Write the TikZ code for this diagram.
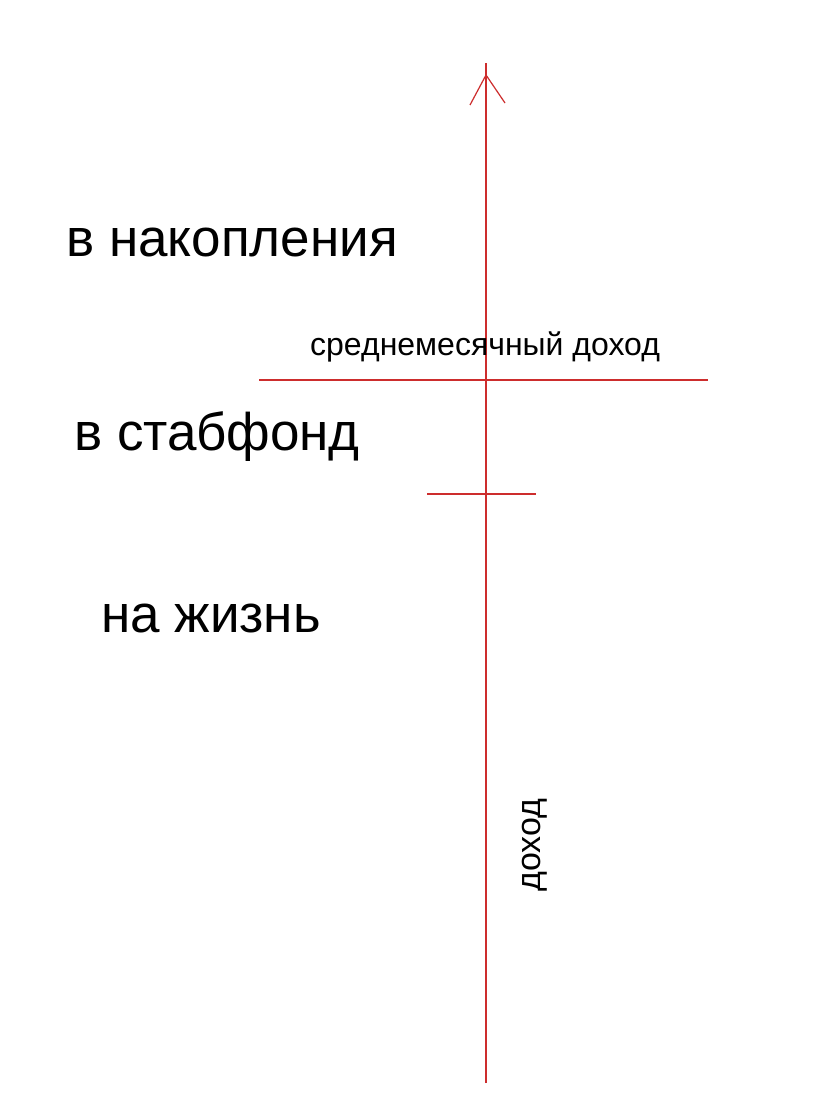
\documentclass[tikz,border=0pt]{standalone}
\usepackage{fontspec}
\setmainfont{Liberation Sans}
\definecolor{axisred}{RGB}{205,45,45}
\begin{document}
\begin{tikzpicture}[x=1pt,y=-1pt,
  axis/.style={draw=axisred,line width=1.2pt},
  big/.style={font=\fontsize{53}{63}\selectfont,inner sep=0pt,anchor=base west},
  small/.style={font=\fontsize{32}{38}\selectfont,inner sep=0pt,anchor=base west}]
\useasboundingbox[fill=white] (0,0) rectangle (824,1115);
% axis
\coordinate (bot) at (486,1083);
\coordinate (top) at (486,63);
\coordinate (apex) at (486,75);
\coordinate (al) at (470,105);
\coordinate (ar) at (505,103);
\draw[axis] (bot) -- (top);
\draw[axis] (al) -- (apex) -- (ar);
% ticks
\coordinate (h1l) at (259,380);
\coordinate (h1r) at (708,380);
\coordinate (h2l) at (427,494);
\coordinate (h2r) at (536,494);
\draw[axis] (h1l) -- (h1r);
\draw[axis] (h2l) -- (h2r);
% texts
\node[big] (nak) at (66,256) {в накопления};
\node[big] (stab) at (74,450) {в стабфонд};
\node[big] (zh) at (101,632) {на жизнь};
\node[small] (avg) at (310,355) {среднемесячный доход};
\node[small,font=\fontsize{34}{40}\selectfont,rotate=90,anchor=base] (inc) at (540,845) {доход};
\end{tikzpicture}
\end{document}
